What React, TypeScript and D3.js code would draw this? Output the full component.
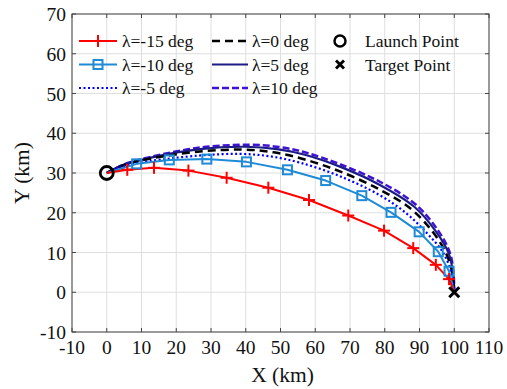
import React from "react";
import * as d3 from "d3";

type P = [number, number];

const xTicks = [-10, 0, 10, 20, 30, 40, 50, 60, 70, 80, 90, 100, 110];
const yTicks = [-10, 0, 10, 20, 30, 40, 50, 60, 70];

const launchPoint: P = [0, 30];
const targetPoint: P = [100, 0];

const seriesM15: P[] = [[0, 30], [5.9, 30.8], [13.6, 31.3], [23.5, 30.6], [34.5, 28.8], [46.5, 26.3], [58.2, 23.2], [69.5, 19.3], [79.8, 15.5], [88.2, 11.1], [94.7, 6.9], [98.5, 3.3], [100, 0]];
const markersM15: P[] = seriesM15.slice(1, -1);

const seriesM10: P[] = [[0, 30], [8.6, 32.3], [18, 33.3], [28.8, 33.5], [40.2, 32.8], [52, 30.8], [63, 28.1], [73.4, 24.3], [81.8, 20.1], [89.9, 15.2], [95.4, 10.2], [98.5, 5.3], [100, 0]];
const markersM10: P[] = seriesM10.slice(1, -1);

const seriesM5: P[] = [[0, 30], [5, 31.8], [12.4, 33.0], [26.8, 34.4], [38.4, 34.8], [47, 34.2], [55.6, 32.6], [67.1, 29.2], [78.6, 24.4], [86, 20.0], [92, 15.0], [96.6, 10.2], [99.2, 5], [100, 0]];
const series0: P[] = [[0, 30], [5, 32.0], [12.4, 33.6], [26.8, 35.4], [39, 35.9], [48, 35.2], [57, 33.4], [67.1, 30.4], [78.6, 25.8], [87.5, 21.0], [93.8, 15.2], [97.8, 9.5], [99.5, 4.5], [100, 0]];
const series5: P[] = [[0, 30], [5, 32.1], [12.4, 33.8], [26.8, 36.0], [40, 36.6], [49, 36.0], [57, 34.6], [67.1, 31.6], [78.6, 27.0], [88.5, 21.5], [94.8, 15.2], [98.4, 9.8], [99.7, 4.5], [100, 0]];
const series10: P[] = [[0, 30], [5, 32.2], [12.4, 34.0], [26.8, 36.4], [41, 37.1], [50, 36.5], [57, 35.2], [67.1, 32.2], [78.6, 27.8], [89, 22.0], [95.6, 15.2], [98.8, 9.8], [99.8, 4.5], [100, 0]];

const legendLabels = ["λ=-15 deg", "λ=-10 deg", "λ=-5 deg", "λ=0 deg", "λ=5 deg", "λ=10 deg"];

const W = 507;
const H = 389;
const M = { left: 72, right: 489, top: 14, bottom: 332 };

const FONT = "'Liberation Serif', 'Times New Roman', serif";

const cRed = "#ff0000";
const cBlue = "#1f8ad6";
const cDot = "#0000ff";
const cBlack = "#000000";
const cNavy = "#1c1c86";
const cViolet = "#3f12d4";

export default function App() {
  const x = d3.scaleLinear().domain([-10, 110]).range([M.left, M.right]);
  const y = d3.scaleLinear().domain([-10, 70]).range([M.bottom, M.top]);
  const line = d3
    .line<P>()
    .x((d) => x(d[0]))
    .y((d) => y(d[1]))
    .curve(d3.curveCatmullRom.alpha(0.5));
  const lineLin = d3
    .line<P>()
    .x((d) => x(d[0]))
    .y((d) => y(d[1]));

  const curves = [
    { data: series10, color: cViolet, dash: "7,3", w: 2.5 },
    { data: series5, color: cNavy, dash: undefined, w: 2.2 },
    { data: series0, color: cBlack, dash: "8,5", w: 2.5 },
    { data: seriesM5, color: cDot, dash: "2,2.5", w: 2.2 },
    { data: seriesM10, color: cBlue, dash: undefined, w: 2 },
    { data: seriesM15, color: cRed, dash: undefined, w: 2 },
  ];

  const plus = (cx: number, cy: number, color: string, k: string | number) => (
    <g key={k} stroke={color} strokeWidth={2}>
      <line x1={cx - 6} x2={cx + 6} y1={cy} y2={cy} />
      <line x1={cx} x2={cx} y1={cy - 6} y2={cy + 6} />
    </g>
  );
  const square = (cx: number, cy: number, color: string, k: string | number) => (
    <rect key={k} x={cx - 4.5} y={cy - 4.5} width={9} height={9} fill="none" stroke={color} strokeWidth={2} />
  );

  const legendRows = [41, 64.5, 88];
  const col1 = { x1: 79, x2: 117, tx: 122 };
  const col2 = { x1: 212, x2: 248, tx: 252 };
  const legendStyles = [
    { color: cRed, dash: undefined, w: 2, marker: "plus" },
    { color: cBlue, dash: undefined, w: 2, marker: "square" },
    { color: cDot, dash: "2,2.5", w: 2.2, marker: "" },
    { color: cBlack, dash: "8,5", w: 2.5, marker: "" },
    { color: cNavy, dash: undefined, w: 2.2, marker: "" },
    { color: cViolet, dash: "7,3", w: 2.5, marker: "" },
  ];

  const lx = launchPoint;
  const tp = targetPoint;

  return (
    <svg width={W} height={H} style={{ position: "absolute", left: 0, top: 0, background: "#fff" }}>
      <rect x={0} y={0} width={W} height={H} fill="#fff" />
      {/* grid */}
      <g stroke="#dedede" strokeWidth={1}>
        {xTicks.map((t) => (
          <line key={"gx" + t} x1={x(t)} x2={x(t)} y1={M.top} y2={M.bottom} />
        ))}
        {yTicks.map((t) => (
          <line key={"gy" + t} x1={M.left} x2={M.right} y1={y(t)} y2={y(t)} />
        ))}
      </g>
      {/* axes box */}
      <rect x={M.left} y={M.top} width={M.right - M.left} height={M.bottom - M.top} fill="none" stroke="#444" strokeWidth={1} />
      <g stroke="#444" strokeWidth={1}>
        {xTicks.map((t) => (
          <g key={"tx" + t}>
            <line x1={x(t)} x2={x(t)} y1={M.bottom} y2={M.bottom - 4} />
            <line x1={x(t)} x2={x(t)} y1={M.top} y2={M.top + 4} />
          </g>
        ))}
        {yTicks.map((t) => (
          <g key={"ty" + t}>
            <line x1={M.left} x2={M.left + 4} y1={y(t)} y2={y(t)} />
            <line x1={M.right} x2={M.right - 4} y1={y(t)} y2={y(t)} />
          </g>
        ))}
      </g>
      {/* tick labels */}
      <g fontFamily={FONT} fontSize={19.5} fill="#111">
        {xTicks.map((t) => (
          <text key={"lx" + t} x={x(t)} y={M.bottom + 22} textAnchor="middle">
            {t}
          </text>
        ))}
        {yTicks.map((t) => (
          <text key={"ly" + t} x={M.left - 6} y={y(t) + 7} textAnchor="end">
            {t}
          </text>
        ))}
      </g>
      <text x={(M.left + M.right) / 2 + 2} y={M.bottom + 50} textAnchor="middle" fontFamily={FONT} fontSize={21.5} fill="#111">
        X (km)
      </text>
      <text
        transform={`translate(${29},${(M.top + M.bottom) / 2}) rotate(-90)`}
        textAnchor="middle"
        fontFamily={FONT}
        fontSize={21.5}
        fill="#111"
      >
        Y (km)
      </text>
      {/* curves */}
      {curves.map((c, i) => (
        <path
          key={"c" + i}
          d={(c.data === seriesM15 || c.data === seriesM10 ? lineLin : line)(c.data) || ""}
          fill="none"
          stroke={c.color}
          strokeWidth={c.w}
          strokeDasharray={c.dash}
          strokeLinejoin="round"
        />
      ))}
      {markersM10.map((d, i) => square(x(d[0]), y(d[1]), cBlue, "sq" + i))}
      {markersM15.map((d, i) => plus(x(d[0]), y(d[1]), cRed, "pl" + i))}
      {/* launch & target */}
      <circle cx={x(lx[0])} cy={y(lx[1])} r={6.5} fill="none" stroke="#000" strokeWidth={2.8} />
      <g stroke="#000" strokeWidth={3}>
        <line x1={x(tp[0]) - 5} x2={x(tp[0]) + 5} y1={y(tp[1]) - 5} y2={y(tp[1]) + 5} />
        <line x1={x(tp[0]) - 5} x2={x(tp[0]) + 5} y1={y(tp[1]) + 5} y2={y(tp[1]) - 5} />
      </g>
      {/* legend */}
      <g fontFamily={FONT} fontSize={17.5} fill="#111">
        {legendLabels.map((lab, i) => {
          const col = i < 3 ? col1 : col2;
          const ry = legendRows[i % 3];
          const s = legendStyles[i];
          const mid = (col.x1 + col.x2) / 2;
          return (
            <g key={"lg" + i}>
              <line x1={col.x1} x2={col.x2} y1={ry} y2={ry} stroke={s.color} strokeWidth={s.w} strokeDasharray={s.dash} />
              {s.marker === "plus" && plus(mid, ry, s.color, "lp")}
              {s.marker === "square" && square(mid, ry, s.color, "ls")}
              <text x={col.tx} y={ry + 6}>
                {lab}
              </text>
            </g>
          );
        })}
        <circle cx={340} cy={legendRows[0]} r={5.5} fill="none" stroke="#000" strokeWidth={2.5} />
        <text x={365} y={legendRows[0] + 6}>Launch Point</text>
        <g stroke="#000" strokeWidth={2.8}>
          <line x1={336} x2={344} y1={legendRows[1] - 4} y2={legendRows[1] + 4} />
          <line x1={336} x2={344} y1={legendRows[1] + 4} y2={legendRows[1] - 4} />
        </g>
        <text x={365} y={legendRows[1] + 6}>Target Point</text>
      </g>
    </svg>
  );
}
